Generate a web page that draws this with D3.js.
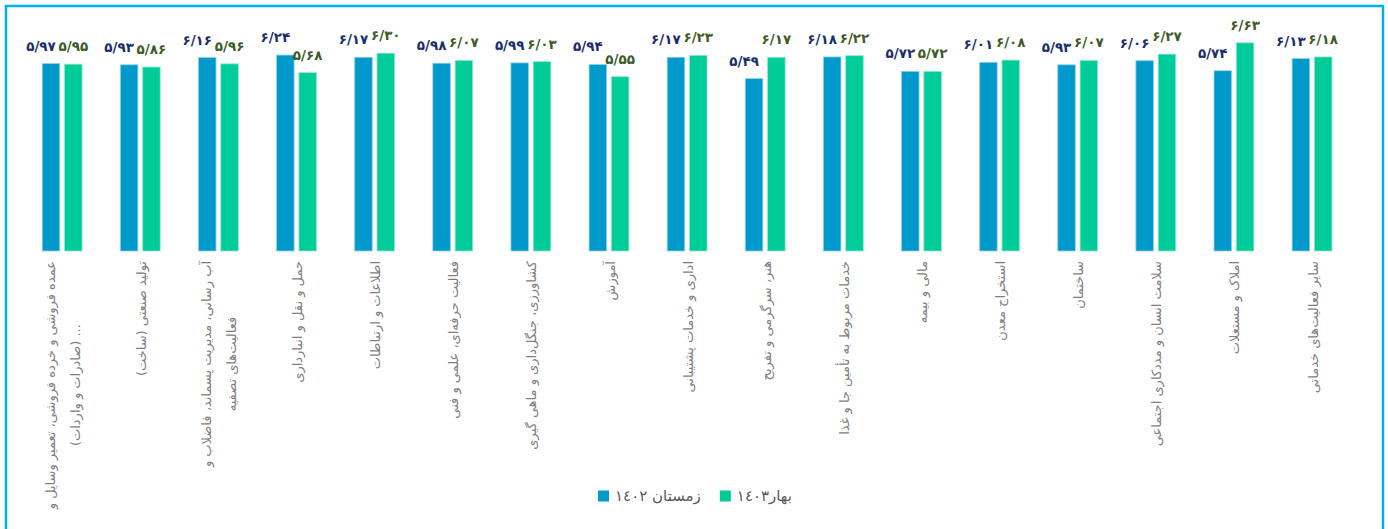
<!DOCTYPE html>
<html>
<head>
<meta charset="utf-8">
<script src="https://cdn.jsdelivr.net/npm/d3@7"></script>
<style>
  body { margin: 0; background: #fff; }
</style>
</head>
<body>
<div id="chart"></div>
<script>
// Canvas size
const width = 1388;
const height = 529;

// Category labels, left to right as drawn ("\n" marks a line break)
const categories = [
    "عمده فروشی و خرده فروشی، تعمیر وسایل و\n... (صادرات و واردات)",
    "تولید صنعتی (ساخت)",
    "آب رسانی، مدیریت پسماند، فاضلاب و\nفعالیت‌های تصفیه",
    "حمل و نقل و انبارداری",
    "اطلاعات و ارتباطات",
    "فعالیت حرفه‌ای، علمی و فنی",
    "کشاورزی، جنگل‌داری و ماهی گیری",
    "آموزش",
    "اداری و خدمات پشتیبانی",
    "هنر، سرگرمی و تفریح",
    "خدمات مربوط به تأمین جا و غذا",
    "مالی و بیمه",
    "استخراج معدن",
    "ساختمان",
    "سلامت انسان و مددکاری اجتماعی",
    "املاک و مستغلات",
    "سایر فعالیت‌های خدماتی"
];

// Series values
const winter1402 = [5.97, 5.93, 6.16, 6.24, 6.17, 5.98, 5.99, 5.94, 6.17, 5.49, 6.18, 5.72, 6.01, 5.93, 6.06, 5.74, 6.13];
const spring1403 = [5.95, 5.86, 5.96, 5.68, 6.30, 6.07, 6.03, 5.55, 6.23, 6.17, 6.22, 5.72, 6.08, 6.07, 6.27, 6.63, 6.18];

const seriesNames = ["زمستان ١٤٠٢", "بهار١٤٠٣"];
const seriesValues = [winter1402, spring1403];
const yDomain = [0, 7];

// Colours
const barColors = ["#0099cc", "#00cc99"];
const barEdges = ["#8fd0ea", "#8fe8cf"];
const labelColors = ["#1b2d6c", "#3d5a28"];
const labelShift = [-10, 0];

const faDigits = "۰۱۲۳۴۵۶۷۸۹";
const formatValue = v => d3.format(".2f")(v).replace(".", "/").replace(/\d/g, c => faDigits[+c]);

const svg = d3.select("#chart").append("svg")
    .attr("width", width)
    .attr("height", height)
    .style("display", "block");

// Frame
svg.append("rect")
    .attr("x", 6).attr("y", 6)
    .attr("width", 1377).attr("height", 700)
    .attr("fill", "none")
    .attr("stroke", "#00b0f0")
    .attr("stroke-width", 2.5);

// Scales
const x0 = d3.scaleBand()
    .domain(categories)
    .range([23.1, 1351.1])
    .paddingInner(0.49)
    .paddingOuter(0.245);

const x1 = d3.scaleBand()
    .domain(d3.range(seriesNames.length))
    .range([0, x0.bandwidth()])
    .paddingInner(0.215);

const y = d3.scaleLinear()
    .domain(yDomain)
    .range([251, 31.2]);

const rows = categories.map((c, i) => ({
    cat: c,
    vals: seriesValues.map((s, k) => ({ k, v: s[i] }))
}));

// Bars
const groups = svg.selectAll(".group")
    .data(rows)
    .enter().append("g")
    .attr("class", "group")
    .attr("transform", d => `translate(${x0(d.cat)},0)`);

groups.selectAll("rect")
    .data(d => d.vals)
    .enter().append("rect")
    .attr("x", d => x1(d.k))
    .attr("y", d => y(d.v))
    .attr("width", x1.bandwidth())
    .attr("height", d => y(0) - y(d.v))
    .attr("fill", d => barColors[d.k])
    .attr("stroke", d => barEdges[d.k])
    .attr("stroke-width", 0.8);

// Value labels
groups.selectAll(".val")
    .data(d => d.vals)
    .enter().append("text")
    .attr("class", "val")
    .attr("x", d => x1(d.k) + x1.bandwidth() / 2 + labelShift[d.k])
    .attr("y", d => y(d.v) - 13)
    .attr("text-anchor", "middle")
    .attr("font-family", "DejaVu Sans")
    .attr("font-weight", "bold")
    .attr("font-size", 13.5)
    .attr("fill", d => labelColors[d.k])
    .text(d => formatValue(d.v));

// Category labels, rotated, top aligned, lines centred in the block
const lineGap = 25;
const labelTop = 261;
const catLabels = svg.selectAll(".cat")
    .data(categories)
    .enter().append("g")
    .attr("class", "cat")
    .attr("transform", d => `translate(${x0(d) + x0.bandwidth() / 2 + 1},${labelTop}) rotate(-90)`);

catLabels.each(function(d) {
    const g = d3.select(this);
    const lines = d.split("\n");
    const texts = lines.map((line, i) => g.append("text")
        .attr("y", (i - (lines.length - 1) / 2) * lineGap)
        .attr("dy", "0.35em")
        .attr("direction", "rtl")
        .attr("text-anchor", "middle")
        .attr("font-family", "DejaVu Sans")
        .attr("font-size", 13)
        .attr("fill", "#7f7f7f")
        .text(line));
    const maxLen = d3.max(texts, t => t.node().getComputedTextLength());
    texts.forEach(t => t.attr("x", -maxLen / 2));
});

// Legend
const legend = svg.append("g");
let lx = 0;
seriesNames.forEach((name, k) => {
    legend.append("rect")
        .attr("x", lx).attr("y", -5.5)
        .attr("width", 11).attr("height", 11)
        .attr("fill", barColors[k]);
    const t = legend.append("text")
        .attr("x", lx + 17)
        .attr("dy", "0.35em")
        .attr("font-family", "DejaVu Sans")
        .attr("font-size", 15)
        .attr("fill", "#595959")
        .text(name);
    lx += 17 + t.node().getComputedTextLength() + 19;
});
const legendWidth = lx - 19;
legend.attr("transform", `translate(${695 - legendWidth / 2},496)`);
</script>
</body>
</html>
